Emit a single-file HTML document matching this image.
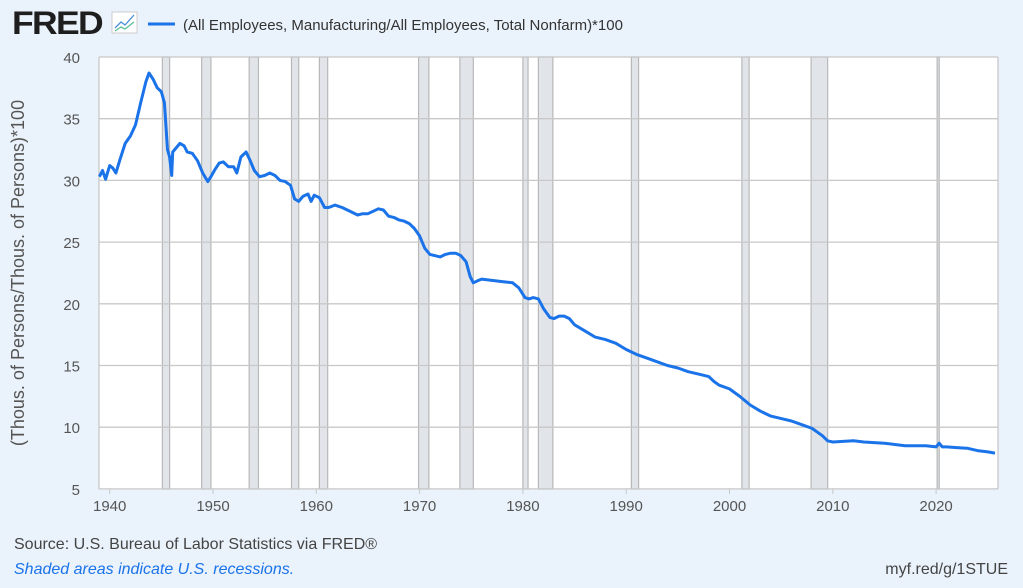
<!DOCTYPE html>
<html><head><meta charset="utf-8"><style>
body{margin:0;width:1023px;height:583px;background:#eaf2fb;overflow:hidden;font-family:"Liberation Sans",sans-serif}
</style></head><body>
<svg id="s" width="1023" height="583" xmlns="http://www.w3.org/2000/svg" font-family="Liberation Sans, sans-serif">
<rect x="0" y="0" width="1023" height="583" fill="#eaf2fb"/>
<text x="12" y="34" font-size="32" font-weight="bold" fill="#1e1e1e" letter-spacing="-1.5" textLength="90" lengthAdjust="spacingAndGlyphs">FRED</text>
<rect x="112" y="12" width="25" height="21" fill="#fff" stroke="#ccc"/>
<polyline points="115,28 121,22 125,25 134,15" fill="none" stroke="#4a90d9" stroke-width="1.3"/>
<polyline points="115,31 121,27 125,29 134,22" fill="none" stroke="#5bbf9a" stroke-width="1.3"/>
<line x1="148" y1="24" x2="175" y2="24" stroke="#1a73e8" stroke-width="3"/>
<text x="183" y="30" font-size="15" fill="#333">(All Employees, Manufacturing/All Employees, Total Nonfarm)*100</text>
<rect x="99" y="57" width="899" height="432" fill="#fff"/>
<g id="rec"></g>
<g id="grid"></g>
<path id="line" fill="none" stroke="#1a73e8" stroke-width="3" stroke-linejoin="round"/>
<text transform="translate(24,273) rotate(-90)" text-anchor="middle" font-size="18" fill="#555">(Thous. of Persons/Thous. of Persons)*100</text>
<g id="lab" font-size="15" fill="#555"></g>
<text x="14" y="549" font-size="16" fill="#444">Source: U.S. Bureau of Labor Statistics via FRED®</text>
<text x="14" y="574" font-size="16" fill="#1a73e8" font-style="italic">Shaded areas indicate U.S. recessions.</text>
<text x="1008" y="574" font-size="16" fill="#444" text-anchor="end">myf.red/g/1STUE</text>
</svg>
<script>
var NS="http://www.w3.org/2000/svg";
function X(y){return 109.7+(y-1940)*10.33}
function Y(v){return 57+(40-v)*12.34}
function el(p,t,a){var e=document.createElementNS(NS,t);for(var k in a)e.setAttribute(k,a[k]);document.getElementById(p).appendChild(e);return e}
var rec=[[1945.1,1945.8],[1948.9,1949.8],[1953.5,1954.4],[1957.6,1958.3],[1960.3,1961.1],[1969.9,1970.9],[1973.9,1975.2],[1980.0,1980.5],[1981.5,1982.9],[1990.5,1991.2],[2001.2,2001.9],[2007.9,2009.5],[2020.1,2020.3]];
rec.forEach(function(r){el("rec","rect",{x:X(r[0]),y:57,width:X(r[1])-X(r[0]),height:432,fill:"#e1e5ea",stroke:"#b8b8b8","stroke-width":1.2})});
for(var v=5;v<=40;v+=5){el("grid","line",{x1:99,x2:998,y1:Y(v),y2:Y(v),stroke:"#c8c8c8","stroke-width":1.3});
var t=el("lab","text",{x:80,y:Y(v)+6,"text-anchor":"end"});t.textContent=v;}
el("grid","line",{x1:99,x2:99,y1:57,y2:489,stroke:"#c8c8c8","stroke-width":1.3});
el("grid","line",{x1:998,x2:998,y1:57,y2:489,stroke:"#c8c8c8","stroke-width":1.3});
for(var y=1940;y<=2020;y+=10){var t=el("lab","text",{x:X(y),y:511,"text-anchor":"middle"});t.textContent=y;
el("grid","line",{x1:X(y),x2:X(y),y1:489,y2:494,stroke:"#c8c8c8"});}
var d=[1939,30.3,1939.3,30.8,1939.6,30.1,1940,31.2,1940.3,31.0,1940.6,30.6,1941,31.7,1941.5,33,1942,33.6,1942.5,34.5,1943,36.3,1943.5,38.0,1943.8,38.7,1944.2,38.2,1944.6,37.5,1945,37.2,1945.3,36.3,1945.6,32.5,1945.8,31.9,1946,30.4,1946.1,32.3,1946.5,32.7,1946.8,33.0,1947.2,32.8,1947.5,32.3,1948,32.2,1948.5,31.6,1949,30.6,1949.5,29.9,1949.8,30.3,1950.2,30.9,1950.6,31.4,1951,31.5,1951.5,31.1,1952,31.1,1952.3,30.6,1952.7,31.9,1953.2,32.3,1953.6,31.6,1954,30.8,1954.5,30.3,1955,30.4,1955.5,30.6,1956,30.4,1956.5,30.0,1957,29.9,1957.5,29.6,1957.9,28.5,1958.3,28.3,1958.7,28.7,1959.2,28.9,1959.5,28.3,1959.8,28.8,1960.3,28.6,1960.8,27.8,1961.2,27.8,1961.8,28.0,1962.5,27.8,1963,27.6,1963.5,27.4,1964,27.2,1964.5,27.3,1965,27.3,1965.5,27.5,1966,27.7,1966.5,27.6,1967,27.1,1967.5,27.0,1968,26.8,1968.5,26.7,1969,26.5,1969.5,26.1,1970,25.5,1970.5,24.5,1971,24.0,1971.5,23.9,1972,23.8,1972.5,24.0,1973,24.1,1973.5,24.1,1974,23.9,1974.5,23.4,1974.9,22.2,1975.2,21.7,1975.7,21.9,1976,22.0,1977,21.9,1978,21.8,1979,21.7,1979.6,21.3,1980.2,20.5,1980.6,20.4,1981,20.5,1981.5,20.4,1982,19.6,1982.6,18.9,1983,18.8,1983.5,19.0,1984,19.0,1984.5,18.8,1985,18.3,1986,17.8,1987,17.3,1988,17.1,1989,16.8,1990,16.3,1991,15.9,1992,15.6,1993,15.3,1994,15.0,1995,14.8,1996,14.5,1997,14.3,1998,14.1,1998.5,13.7,1999,13.4,2000,13.1,2001,12.5,2002,11.8,2003,11.3,2004,10.9,2005,10.7,2006,10.5,2007,10.2,2008,9.9,2009,9.3,2009.5,8.9,2010,8.8,2011,8.85,2012,8.9,2013,8.8,2014,8.75,2015,8.7,2016,8.6,2017,8.5,2018,8.5,2019,8.5,2020,8.4,2020.3,8.7,2020.6,8.4,2021,8.4,2022,8.35,2023,8.3,2024,8.1,2025,8.0,2025.7,7.9];
var p="";for(var i=0;i<d.length;i+=2){p+=(i?"L":"M")+X(d[i]).toFixed(1)+","+Y(d[i+1]).toFixed(1);}
document.getElementById("line").setAttribute("d",p);
</script>
</body></html>
